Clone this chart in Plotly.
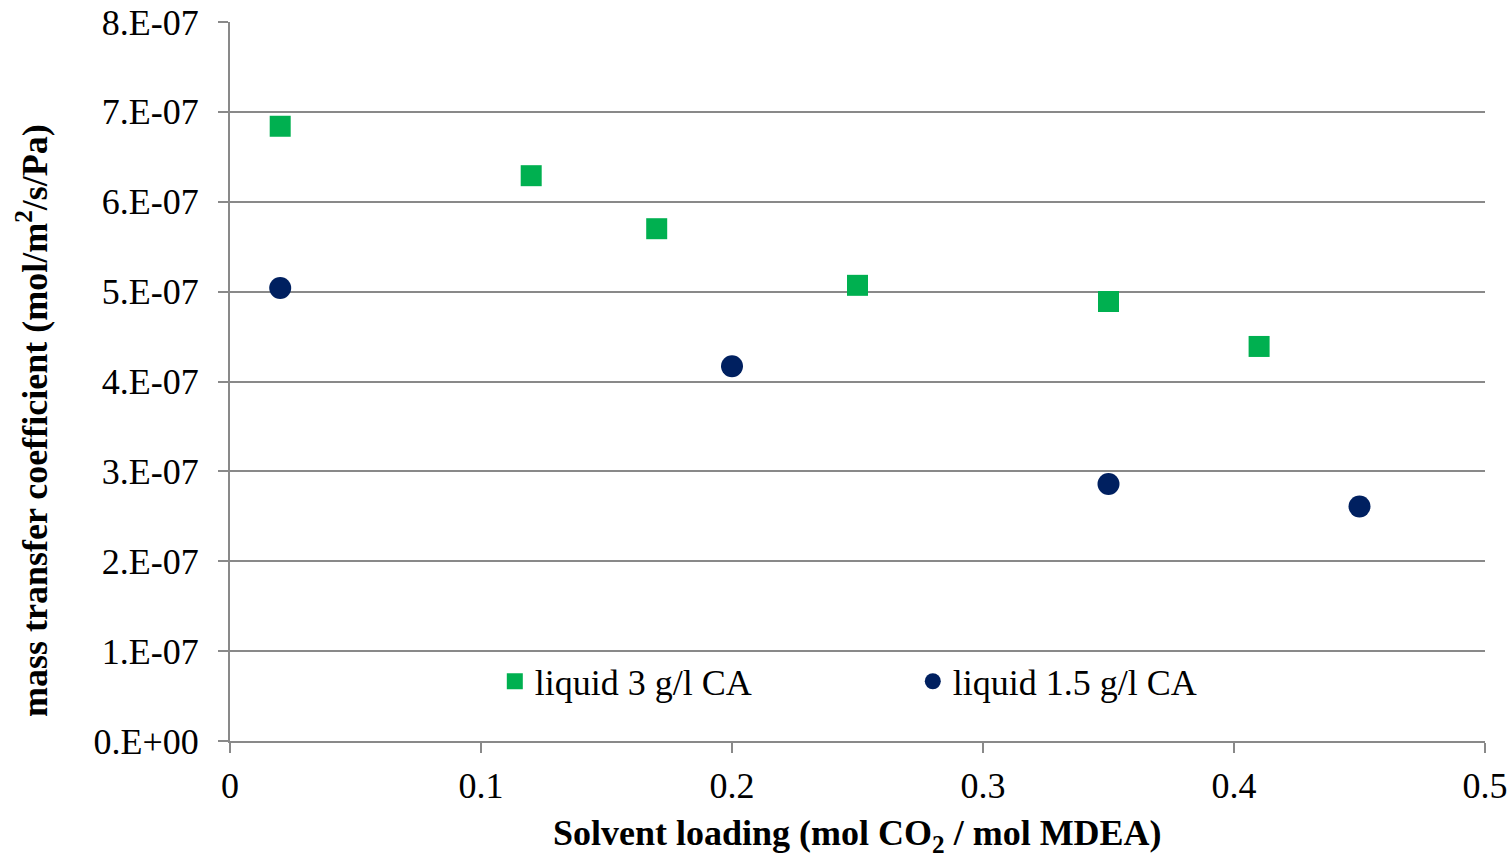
import plotly.graph_objects as go

# Solvent loading (mol CO2 / mol MDEA) and mass transfer coefficients
loading_3g = [0.02, 0.12, 0.17, 0.25, 0.35, 0.41]
kg_3g = [6.84e-7, 6.29e-7, 5.70e-7, 5.07e-7, 4.89e-7, 4.39e-7]

loading_15g = [0.02, 0.20, 0.35, 0.45]
kg_15g = [5.04e-7, 4.17e-7, 2.86e-7, 2.61e-7]

y_ticks = [0, 1e-7, 2e-7, 3e-7, 4e-7, 5e-7, 6e-7, 7e-7, 8e-7]
y_tick_labels = ["0.E+00", "1.E-07", "2.E-07", "3.E-07", "4.E-07",
                 "5.E-07", "6.E-07", "7.E-07", "8.E-07"]
x_ticks = [0, 0.1, 0.2, 0.3, 0.4, 0.5]
x_tick_labels = ["0", "0.1", "0.2", "0.3", "0.4", "0.5"]

FONT = "Liberation Serif, Times New Roman, serif"
AXIS_GREY = "#898989"

fig = go.Figure()
fig.add_trace(go.Scatter(
    x=loading_3g, y=kg_3g, mode="markers", name="liquid 3 g/l CA",
    marker=dict(symbol="square", size=21, color="#00B050"),
))
fig.add_trace(go.Scatter(
    x=loading_15g, y=kg_15g, mode="markers", name="liquid 1.5 g/l CA",
    marker=dict(symbol="circle", size=22, color="#002060"),
))

fig.update_layout(
    width=1512, height=859,
    margin=dict(l=230, r=27, t=22, b=118, autoexpand=False),
    paper_bgcolor="white", plot_bgcolor="white",
    font=dict(family=FONT, size=36, color="black"),
    showlegend=True,
    legend=dict(
        orientation="h", x=0.211, y=0.083, xanchor="left", yanchor="middle",
        bgcolor="rgba(0,0,0,0)", font=dict(size=36),
        entrywidth=373, entrywidthmode="pixels", itemwidth=30,
    ),
    xaxis=dict(
        range=[0, 0.5], tickvals=x_ticks, ticktext=x_tick_labels,
        showgrid=False, zeroline=False, automargin=False,
        showline=True, linecolor=AXIS_GREY, linewidth=2,
        ticks="outside", ticklen=10, tickcolor=AXIS_GREY, tickwidth=2,
        tickfont=dict(size=36), ticklabelstandoff=2,
    ),
    yaxis=dict(
        range=[0, 8e-7], tickvals=y_ticks, ticktext=y_tick_labels,
        showgrid=True, gridcolor=AXIS_GREY, gridwidth=1.5,
        zeroline=False, automargin=False,
        showline=True, linecolor=AXIS_GREY, linewidth=2,
        ticks="outside", ticklen=10, tickcolor=AXIS_GREY, tickwidth=2,
        tickfont=dict(size=36), ticklabelstandoff=12,
    ),
    annotations=[
        dict(text="<b>Solvent loading (mol CO<sub>2</sub> / mol MDEA)</b>",
             xref="paper", yref="paper", x=0.5, y=-0.131,
             xanchor="center", yanchor="middle", showarrow=False,
             font=dict(size=36)),
        dict(text="<b>mass transfer coefficient (mol/m<sup>2</sup>/s/Pa)</b>",
             xref="paper", yref="paper", x=-0.1570, y=0.4465,
             xanchor="center", yanchor="middle", showarrow=False,
             textangle=-90, font=dict(size=36)),
    ],
)

fig.write_html("out.html")
